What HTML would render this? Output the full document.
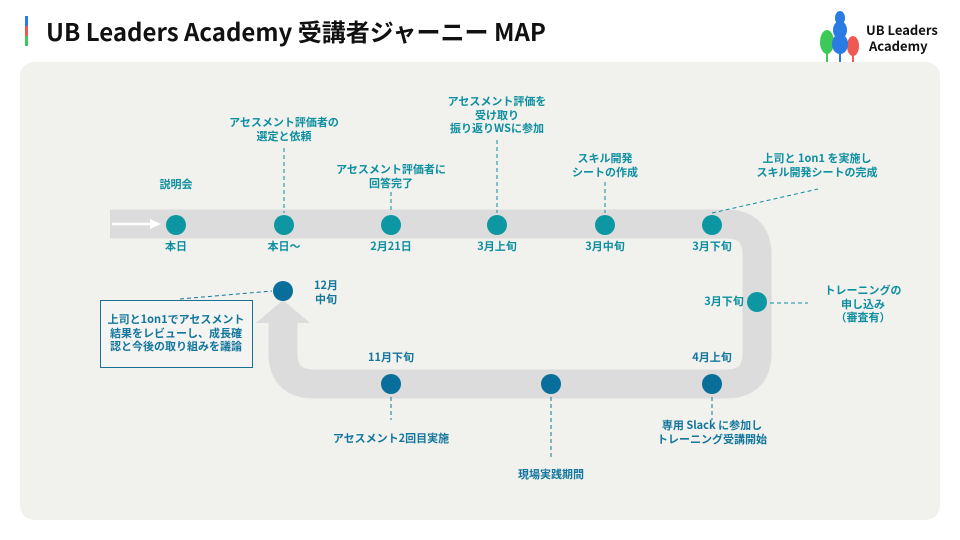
<!DOCTYPE html>
<html><head><meta charset="utf-8"><style>
body{margin:0;width:960px;height:540px;background:#fff;font-family:"Noto Sans CJK JP","Liberation Sans",sans-serif;position:relative;overflow:hidden}
.t{position:absolute;font-weight:bold;font-size:11px;line-height:13.5px;text-align:center;color:#0d8fa0;white-space:nowrap;transform:translateX(-50%)}
.b{color:#13769c}
</style></head><body>
<div style="position:absolute;left:25px;top:16px;width:3px;height:10px;background:#2a7be4"></div>
<div style="position:absolute;left:25px;top:26px;width:3px;height:10px;background:#ee5a52"></div>
<div style="position:absolute;left:25px;top:36px;width:3px;height:10px;background:#3cc95a"></div>
<div style="position:absolute;left:46px;top:14px;font-size:24px;font-weight:bold;color:#111;line-height:34px">UB Leaders Academy 受講者ジャーニー MAP</div>
<svg style="position:absolute;left:815px;top:4px" width="50" height="64">
<ellipse cx="12" cy="38" rx="7" ry="12" fill="#3cc95a"/><line x1="12" y1="46" x2="12" y2="62" stroke="#3cc95a" stroke-width="2"/>
<ellipse cx="38" cy="42" rx="6" ry="10" fill="#ee5a52"/><line x1="38" y1="48" x2="38" y2="62" stroke="#ee5a52" stroke-width="2"/>
<ellipse cx="25" cy="14" rx="5" ry="7" fill="#2a7be4"/><ellipse cx="25" cy="26" rx="7" ry="9" fill="#2a7be4"/><ellipse cx="25" cy="40" rx="8" ry="10" fill="#2a7be4"/><line x1="25" y1="44" x2="25" y2="62" stroke="#2a7be4" stroke-width="2"/>
</svg>
<div style="position:absolute;left:866px;top:22px;font-size:13px;font-weight:bold;line-height:16px;color:#111">UB Leaders<br>&nbsp;Academy</div>
<div style="position:absolute;left:20px;top:62px;width:920px;height:458px;background:#f1f1ee;border-radius:14px"></div>
<svg style="position:absolute;left:0;top:0" width="960" height="540">
<path d="M110,224 H726 Q757,224 757,255 V353 Q757,384 726,384 H314 Q283,384 283,353 V322" fill="none" stroke="#dcdcdc" stroke-width="29"/>
<polygon points="256,323 310,323 283,300" fill="#dcdcdc"/>
<line x1="112" y1="224" x2="152" y2="224" stroke="#fff" stroke-width="2.5"/><polygon points="150,219 161,224 150,229" fill="#fff"/>
<g stroke="#0d8fa0" stroke-width="1" stroke-dasharray="4,3" fill="none">
<line x1="284" y1="148" x2="284" y2="213"/><line x1="391" y1="192" x2="391" y2="213"/>
<line x1="497" y1="140" x2="497" y2="213"/><line x1="605" y1="182" x2="605" y2="213"/>
<line x1="712" y1="213" x2="818" y2="189"/><line x1="770" y1="303" x2="808" y2="303"/>
</g>
<g stroke="#13769c" stroke-width="1" stroke-dasharray="4,3" fill="none">
<line x1="391" y1="397" x2="391" y2="420"/><line x1="551" y1="397" x2="551" y2="460"/><line x1="712" y1="397" x2="712" y2="420"/>
<line x1="180" y1="299" x2="272" y2="291"/>
</g>
<g fill="#0d97a3"><circle cx="176" cy="225" r="10"/><circle cx="284" cy="225" r="10"/><circle cx="391" cy="225" r="10"/><circle cx="497" cy="225" r="10"/><circle cx="605" cy="225" r="10"/><circle cx="712" cy="225" r="10"/><circle cx="757" cy="302" r="10"/></g>
<g fill="#0a6e9a"><circle cx="391" cy="384" r="10"/><circle cx="551" cy="384" r="10"/><circle cx="712" cy="384" r="10"/><circle cx="283" cy="291" r="10"/></g>
</svg>
<div class="t" style="left:176px;top:178px">説明会</div>
<div class="t" style="left:284px;top:116px">アセスメント評価者の<br>選定と依頼</div>
<div class="t" style="left:391px;top:163px">アセスメント評価者に<br>回答完了</div>
<div class="t" style="left:497px;top:95px">アセスメント評価を<br>受け取り<br>振り返りWSに参加</div>
<div class="t" style="left:605px;top:152px">スキル開発<br>シートの作成</div>
<div class="t" style="left:817px;top:152px">上司と 1on1 を実施し<br>スキル開発シートの完成</div>
<div class="t" style="left:176px;top:240px">本日</div>
<div class="t" style="left:284px;top:240px">本日〜</div>
<div class="t" style="left:391px;top:240px">2月21日</div>
<div class="t" style="left:497px;top:240px">3月上旬</div>
<div class="t" style="left:605px;top:240px">3月中旬</div>
<div class="t" style="left:712px;top:240px">3月下旬</div>
<div class="t" style="left:724px;top:295px">3月下旬</div>
<div class="t" style="left:863px;top:284px">トレーニングの<br>申し込み<br>（審査有）</div>
<div class="t b" style="left:712px;top:351px">4月上旬</div>
<div class="t b" style="left:391px;top:351px">11月下旬</div>
<div class="t b" style="left:326px;top:279px">12月<br>中旬</div>
<div class="t b" style="left:391px;top:432px">アセスメント2回目実施</div>
<div class="t b" style="left:551px;top:468px">現場実践期間</div>
<div class="t b" style="left:712px;top:419px">専用 Slack に参加し<br>トレーニング受講開始</div>
<div style="position:absolute;left:100px;top:300px;width:151px;height:66px;border:1.5px solid #1a6f95;background:#f4f4f2"></div>
<div class="t b" style="left:176px;top:313px">上司と1on1でアセスメント<br>結果をレビューし、成長確<br>認と今後の取り組みを議論</div>
</body></html>
